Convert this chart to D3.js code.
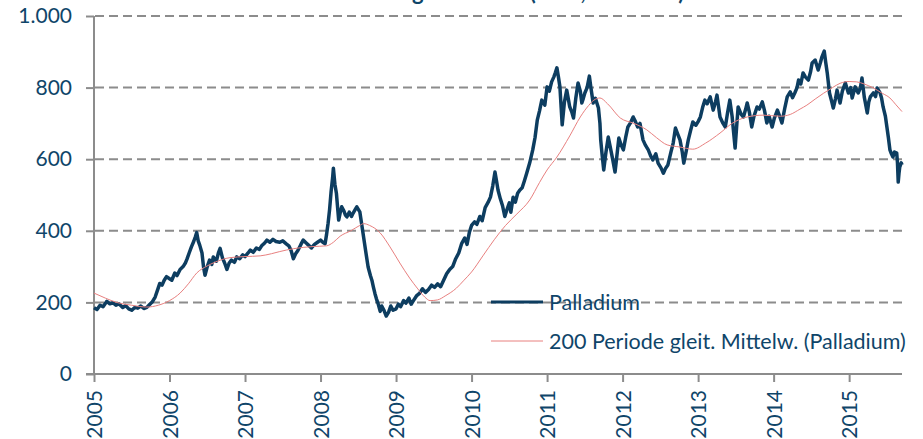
<!DOCTYPE html>
<html><head><meta charset="utf-8">
<script src="https://cdn.jsdelivr.net/npm/d3@7"></script>
<style>
html,body{margin:0;padding:0;background:#fff;}
svg{display:block;}
</style></head>
<body>
<svg id="chart" width="923" height="439"></svg>
<script>
const titleText = "Preisentwicklung Palladium (USD, Feinunze)";
const yTicks = [0, 200, 400, 600, 800, 1000];
const yTickLabels = ["0", "200", "400", "600", "800", "1.000"];
const xYears = [2005, 2006, 2007, 2008, 2009, 2010, 2011, 2012, 2013, 2014, 2015];
const legendLabels = ["Palladium", "200 Periode gleit. Mittelw. (Palladium)"];

// Palladium price [decimal year, USD]
const palladium = [[2005.00,185],[2005.04,180],[2005.08,192],[2005.12,188],[2005.17,203],[2005.21,196],[2005.25,199],[2005.29,192],[2005.33,196],[2005.38,186],[2005.42,191],[2005.46,182],[2005.50,178],[2005.54,186],[2005.58,184],[2005.62,190],[2005.66,183],[2005.70,186],[2005.74,195],[2005.77,201],[2005.81,215],[2005.85,240],[2005.87,253],[2005.90,248],[2005.93,262],[2005.96,272],[2006.00,266],[2006.03,262],[2006.07,282],[2006.10,275],[2006.14,292],[2006.18,300],[2006.21,310],[2006.23,320],[2006.26,338],[2006.29,355],[2006.32,370],[2006.34,382],[2006.36,395],[2006.38,372],[2006.40,360],[2006.43,338],[2006.45,300],[2006.47,276],[2006.50,300],[2006.53,318],[2006.56,306],[2006.58,327],[2006.62,315],[2006.65,340],[2006.67,351],[2006.70,325],[2006.73,310],[2006.76,292],[2006.79,310],[2006.82,318],[2006.86,312],[2006.89,327],[2006.93,322],[2006.97,333],[2007.00,328],[2007.04,338],[2007.07,346],[2007.11,340],[2007.15,352],[2007.19,348],[2007.22,358],[2007.26,366],[2007.29,374],[2007.33,368],[2007.37,376],[2007.41,370],[2007.46,368],[2007.50,372],[2007.55,363],[2007.58,358],[2007.61,345],[2007.64,322],[2007.67,336],[2007.70,345],[2007.74,362],[2007.77,374],[2007.81,366],[2007.84,360],[2007.88,352],[2007.92,362],[2007.96,368],[2008.00,374],[2008.03,368],[2008.06,364],[2008.08,390],[2008.10,421],[2008.12,460],[2008.14,510],[2008.16,548],[2008.17,575],[2008.19,530],[2008.21,505],[2008.23,455],[2008.24,430],[2008.26,450],[2008.28,467],[2008.31,455],[2008.33,444],[2008.35,439],[2008.38,452],[2008.41,440],[2008.43,449],[2008.46,460],[2008.48,467],[2008.50,460],[2008.52,453],[2008.54,425],[2008.57,383],[2008.60,340],[2008.63,299],[2008.66,275],[2008.68,262],[2008.70,243],[2008.72,225],[2008.74,210],[2008.76,198],[2008.79,175],[2008.81,190],[2008.84,178],[2008.87,162],[2008.90,172],[2008.93,190],[2008.96,178],[2009.00,182],[2009.03,195],[2009.06,188],[2009.10,205],[2009.13,198],[2009.17,212],[2009.20,195],[2009.23,205],[2009.27,218],[2009.31,225],[2009.35,238],[2009.39,228],[2009.43,236],[2009.47,248],[2009.51,242],[2009.55,252],[2009.59,244],[2009.63,262],[2009.67,280],[2009.71,292],[2009.75,300],[2009.79,322],[2009.83,338],[2009.87,365],[2009.91,380],[2009.94,362],[2009.97,395],[2010.00,415],[2010.04,425],[2010.07,418],[2010.11,440],[2010.14,428],[2010.18,465],[2010.22,480],[2010.25,494],[2010.28,525],[2010.31,564],[2010.33,540],[2010.35,514],[2010.38,490],[2010.41,470],[2010.44,440],[2010.47,460],[2010.50,478],[2010.52,452],[2010.55,494],[2010.58,480],[2010.61,505],[2010.64,514],[2010.67,520],[2010.70,540],[2010.73,561],[2010.77,590],[2010.81,626],[2010.84,660],[2010.87,709],[2010.90,735],[2010.93,765],[2010.97,751],[2011.00,802],[2011.03,790],[2011.06,816],[2011.09,830],[2011.11,842],[2011.13,855],[2011.15,830],[2011.17,802],[2011.20,696],[2011.23,760],[2011.26,793],[2011.28,770],[2011.30,746],[2011.33,730],[2011.35,715],[2011.38,770],[2011.41,813],[2011.44,790],[2011.46,757],[2011.48,770],[2011.50,785],[2011.53,800],[2011.56,832],[2011.58,800],[2011.61,757],[2011.64,770],[2011.68,743],[2011.70,700],[2011.71,654],[2011.73,610],[2011.75,570],[2011.78,620],[2011.81,662],[2011.84,630],[2011.87,598],[2011.90,564],[2011.93,620],[2011.95,659],[2011.98,640],[2012.01,626],[2012.04,660],[2012.07,690],[2012.10,700],[2012.14,718],[2012.17,705],[2012.20,690],[2012.23,700],[2012.27,654],[2012.30,640],[2012.34,626],[2012.37,610],[2012.40,598],[2012.44,615],[2012.47,589],[2012.51,575],[2012.54,561],[2012.57,575],[2012.60,584],[2012.64,620],[2012.67,645],[2012.70,687],[2012.73,670],[2012.76,654],[2012.79,620],[2012.81,589],[2012.84,620],[2012.87,654],[2012.90,680],[2012.93,704],[2012.97,695],[2013.00,705],[2013.03,718],[2013.06,745],[2013.09,765],[2013.12,755],[2013.16,774],[2013.20,737],[2013.23,760],[2013.25,779],[2013.29,718],[2013.33,700],[2013.36,690],[2013.39,730],[2013.42,765],[2013.45,720],[2013.49,631],[2013.51,690],[2013.53,746],[2013.57,725],[2013.60,718],[2013.63,740],[2013.65,757],[2013.68,730],[2013.71,690],[2013.74,720],[2013.78,746],[2013.81,740],[2013.85,760],[2013.88,735],[2013.91,701],[2013.94,720],[2013.98,690],[2014.01,715],[2014.05,737],[2014.08,720],[2014.11,701],[2014.15,745],[2014.18,774],[2014.22,788],[2014.25,772],[2014.28,785],[2014.31,800],[2014.33,821],[2014.36,810],[2014.39,841],[2014.42,830],[2014.46,821],[2014.49,845],[2014.51,869],[2014.55,877],[2014.59,849],[2014.62,870],[2014.64,886],[2014.67,902],[2014.69,870],[2014.71,841],[2014.74,785],[2014.77,760],[2014.79,743],[2014.82,770],[2014.84,793],[2014.86,775],[2014.88,757],[2014.91,790],[2014.95,813],[2014.99,785],[2015.02,800],[2015.04,771],[2015.08,802],[2015.12,785],[2015.15,800],[2015.17,827],[2015.20,774],[2015.24,729],[2015.26,760],[2015.28,774],[2015.32,785],[2015.35,775],[2015.37,799],[2015.41,785],[2015.43,770],[2015.45,746],[2015.48,720],[2015.50,690],[2015.52,660],[2015.54,626],[2015.56,615],[2015.58,606],[2015.60,620],[2015.63,617],[2015.64,590],[2015.65,536],[2015.66,560],[2015.67,578],[2015.69,590],[2015.70,584]];

// 200-period moving average [decimal year, USD]
const movingAverage = [[2005.00,226],[2005.15,212],[2005.30,200],[2005.50,192],[2005.70,187],[2005.85,192],[2006.00,205],[2006.14,226],[2006.25,252],[2006.36,282],[2006.50,302],[2006.60,312],[2006.80,325],[2007.00,328],[2007.20,330],[2007.35,336],[2007.46,342],[2007.64,350],[2007.90,356],[2008.08,358],[2008.17,368],[2008.26,385],[2008.40,400],[2008.52,415],[2008.57,420],[2008.65,415],[2008.79,394],[2008.92,355],[2009.05,310],[2009.18,268],[2009.28,240],[2009.38,215],[2009.45,205],[2009.55,207],[2009.65,218],[2009.80,240],[2009.90,262],[2010.00,285],[2010.15,330],[2010.30,375],[2010.45,415],[2010.60,447],[2010.77,486],[2010.90,535],[2011.00,570],[2011.13,606],[2011.30,665],[2011.44,718],[2011.55,750],[2011.62,765],[2011.70,771],[2011.80,755],[2011.97,715],[2012.15,700],[2012.32,682],[2012.45,660],[2012.59,640],[2012.76,634],[2012.93,628],[2013.10,645],[2013.29,673],[2013.45,700],[2013.65,718],[2013.86,723],[2014.09,720],[2014.22,725],[2014.35,740],[2014.44,751],[2014.55,768],[2014.66,784],[2014.78,800],[2014.88,812],[2015.00,817],[2015.10,816],[2015.20,810],[2015.32,799],[2015.44,784],[2015.54,771],[2015.62,752],[2015.70,733]];

const C_TEXT = "#0f4569", C_LINE = "#0d3d60", C_MA = "#e8807f", C_GRID = "#8c8c8c";
const FONT = "Lato, 'Open Sans', sans-serif";

const svg = d3.select("#chart");
const x = d3.scaleLinear().domain([2005, 2015.7]).range([94, 902]);
const y = d3.scaleLinear().domain([0, 1000]).range([374, 16]);

// title (cropped at the top edge, as in the reference)
svg.append("text").attr("x", 470).attr("y", 0).attr("text-anchor", "middle")
  .attr("font-family", FONT).attr("font-weight", 700).attr("font-size", 22)
  .attr("fill", C_TEXT).text(titleText);

// gridlines
svg.append("g").selectAll("line").data(yTicks.filter(d => d > 0)).join("line")
  .attr("x1", x(2005) + 1).attr("x2", x.range()[1])
  .attr("y1", d => y(d)).attr("y2", d => y(d))
  .attr("stroke", C_GRID).attr("stroke-width", 2).attr("stroke-dasharray", "9,5");

// y axis
const yAxis = svg.append("g").attr("transform", `translate(${x(2005)},0)`)
  .call(d3.axisLeft(y).tickValues(yTicks).tickFormat((d, i) => yTickLabels[i]).tickSize(8).tickPadding(14));
yAxis.select(".domain").attr("stroke", C_GRID).attr("stroke-width", 2).attr("d", `M0,${y(1000)}V${y(0)}`);
yAxis.selectAll(".tick line").attr("stroke", C_GRID).attr("stroke-width", 2);
yAxis.selectAll(".tick text").attr("fill", C_TEXT).attr("font-family", FONT).attr("font-size", 21);

// x axis
const xAxis = svg.append("g").attr("transform", `translate(0,${y(0)})`)
  .call(d3.axisBottom(x).tickValues(xYears).tickFormat(d3.format("d")).tickSize(8).tickPadding(0));
xAxis.select(".domain").attr("stroke", C_GRID).attr("stroke-width", 2).attr("d", `M${x(2005)-8},0H${x.range()[1]}`);
xAxis.selectAll(".tick line").attr("stroke", C_GRID).attr("stroke-width", 2);
xAxis.selectAll(".tick text").attr("fill", C_TEXT).attr("font-family", FONT).attr("font-size", 21)
  .attr("transform", "rotate(-90)").attr("text-anchor", "end").attr("x", -16).attr("y", 0).attr("dy", "0.36em");

// lines
const line = d3.line().x(d => x(d[0])).y(d => y(d[1]));
svg.append("path").datum(palladium).attr("d", line).attr("fill", "none")
  .attr("stroke", C_LINE).attr("stroke-width", 3.5).attr("stroke-linejoin", "round");
svg.append("path").datum(movingAverage).attr("d", d3.line().curve(d3.curveMonotoneX).x(d => x(d[0])).y(d => y(d[1])))
  .attr("fill", "none").attr("stroke", C_MA).attr("stroke-width", 1);

// legend
const lg = svg.append("g");
const lgY = [302, 341];
lg.append("line").attr("x1", 491).attr("x2", 543).attr("y1", lgY[0]).attr("y2", lgY[0]).attr("stroke", C_LINE).attr("stroke-width", 3);
lg.append("line").attr("x1", 491).attr("x2", 543).attr("y1", lgY[1]).attr("y2", lgY[1]).attr("stroke", C_MA).attr("stroke-width", 1);
lg.selectAll("text").data(legendLabels).join("text")
  .attr("x", 549).attr("y", (d, i) => lgY[i]).attr("dy", "0.35em")
  .attr("font-family", FONT).attr("font-size", 21.5).attr("fill", C_TEXT).text(d => d);
</script>
</body></html>
